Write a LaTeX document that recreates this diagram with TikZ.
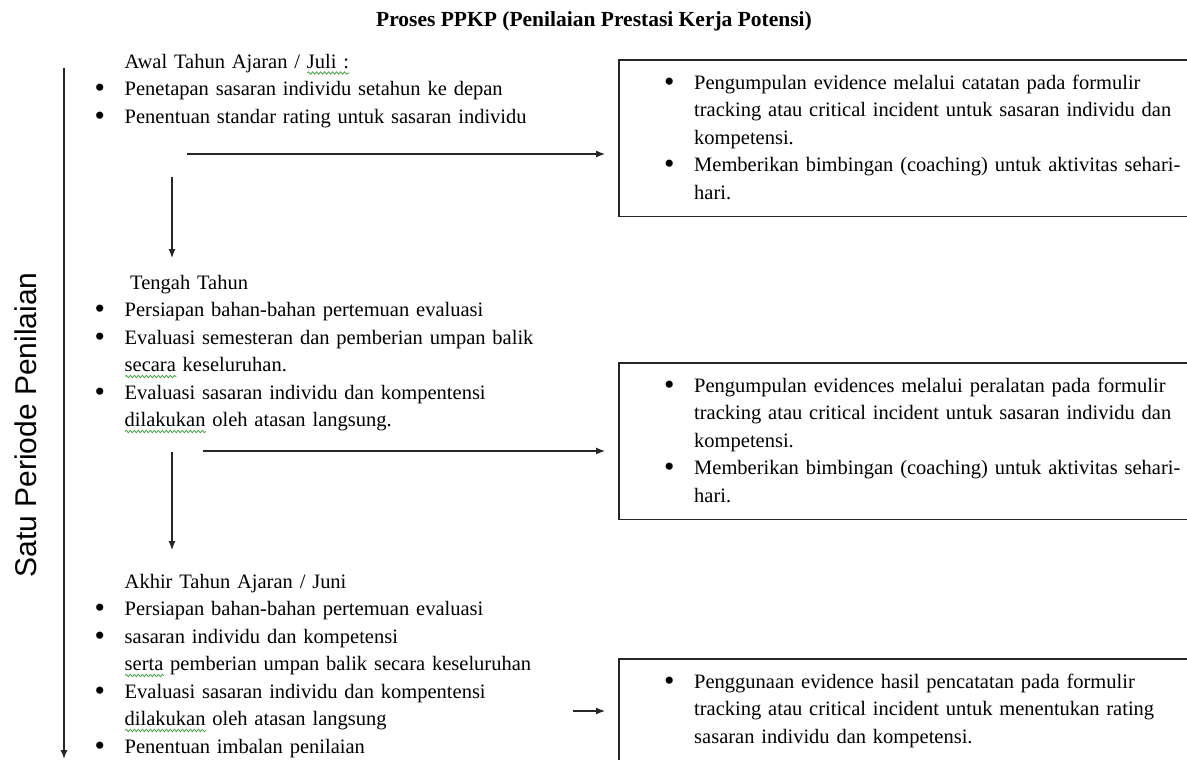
\documentclass[tikz,border=0pt]{standalone}
\usepackage{fontspec}
\setmainfont{Liberation Serif}
\newfontfamily\arialfont{Liberation Sans}
\usepackage{xcolor}
\usetikzlibrary{arrows.meta,decorations.pathmorphing}

\setlength{\parindent}{0pt}
\definecolor{ejaan}{RGB}{70,160,70}
\newsavebox{\katabox}
\newcommand{\salah}[1]{\sbox{\katabox}{#1}\rlap{\tikz[baseline=0pt]\draw[ejaan, line width=0.8pt, decorate,
    decoration={snake, amplitude=1.2pt, segment length=4pt}] (0pt,-5pt) -- (\wd\katabox,-5pt);}\usebox{\katabox}}
\newcommand{\butir}{\makebox[28.5pt][l]{\hspace*{-1.5pt}\raisebox{-2.4pt}{\scalebox{1.45}{\textbullet}}}}
\newcommand{\lanjut}{\hspace*{28.5pt}}

\tikzset{
  teks/.style={inner sep=0pt, anchor=north west, text width=500pt, align=left,
    font=\fontsize{20.5}{27.5}\selectfont},
  kotak/.style={anchor=north west, inner xsep=46.5pt,
    inner ysep=14.4pt, text width=640pt, align=left, font=\fontsize{20.5}{27.5}\selectfont},
  bingkai/.style={draw=black!85, line width=1.6pt},
  panah/.style={->, line width=1.2pt, draw=black!85},
}

\begin{document}
\begin{tikzpicture}[x=1pt, y=-1pt, >={Latex[length=9pt,width=7pt]}]
    \path[use as bounding box] (0,0) rectangle (1187,760);
    \clip (0,0) rectangle (1187,760);

    \node[font=\bfseries\fontsize{21.5}{25}\selectfont] (judul) at (594,21) {Proses PPKP (Penilaian Prestasi Kerja Potensi)};
    \node[rotate=90, font=\arialfont\fontsize{30}{36}\selectfont] (periode) at (26,425) {Satu Periode Penilaian};

    % garis waktu
    \coordinate (waktuA) at (64,68);
    \coordinate (waktuB) at (64,759);
    \draw[panah, line width=1.4pt] (waktuA) -- (waktuB);

    % awal tahun
    \node[teks] (awal) at (96,53.6) {\lanjut Awal Tahun Ajaran / \salah{Juli :}\\
        \butir Penetapan sasaran individu setahun ke depan\\
        \butir Penentuan standar rating untuk sasaran individu};
    \node[kotak] (box1) at (619,60) {\butir Pengumpulan evidence melalui catatan pada formulir\\
        \lanjut tracking atau critical incident untuk sasaran individu dan\\
        \lanjut kompetensi.\\
        \butir Memberikan bimbingan (coaching) untuk aktivitas sehari-\\
        \lanjut hari.\rule[-3pt]{0pt}{3pt}};

    % tengah tahun
    \node[teks] (tengah) at (96,274.6) {\hspace*{34pt}Tengah Tahun\\
        \butir Persiapan bahan-bahan pertemuan evaluasi\\
        \butir Evaluasi semesteran dan pemberian umpan balik\\
        \lanjut \salah{secara} keseluruhan.\\
        \butir Evaluasi sasaran individu dan kompentensi\\
        \lanjut \salah{dilakukan} oleh atasan langsung.};
    \node[kotak] (box2) at (619,363) {\butir Pengumpulan evidences melalui peralatan pada formulir\\
        \lanjut tracking atau critical incident untuk sasaran individu dan\\
        \lanjut kompetensi.\\
        \butir Memberikan bimbingan (coaching) untuk aktivitas sehari-\\
        \lanjut hari.\rule[-3pt]{0pt}{3pt}};

    % akhir tahun
    \node[teks] (akhir) at (96,573.6) {\lanjut Akhir Tahun Ajaran / Juni\\
        \butir Persiapan bahan-bahan pertemuan evaluasi\\
        \butir sasaran individu dan kompetensi\\
        \lanjut \salah{serta} pemberian umpan balik secara keseluruhan\\
        \butir Evaluasi sasaran individu dan kompentensi\\
        \lanjut \salah{dilakukan} oleh atasan langsung\\
        \butir Penentuan imbalan penilaian};
    \node[kotak] (box3) at (619,659) {\butir Penggunaan evidence hasil pencatatan pada formulir\\
        \lanjut tracking atau critical incident untuk menentukan rating\\
        \lanjut sasaran individu dan kompetensi.\strut};

    % bingkai kotak (sisi kanan di luar gambar)
    \draw[bingkai] (box1.north east) -- (box1.north west) -- (box1.south west) -- (box1.south east);
    \draw[bingkai] (box2.north east) -- (box2.north west) -- (box2.south west) -- (box2.south east);
    \draw[bingkai] (box3.north east) -- (box3.north west) -- (box3.south west);

    % panah
    \coordinate (a1) at (187,154);
    \coordinate (a2) at (203,451);
    \coordinate (a3) at (573,711);
    \draw[panah, shorten >=14pt] (a1) -- (a1 -| box1.west);
    \draw[panah, shorten >=14pt] (a2) -- (a2 -| box2.west);
    \draw[panah, shorten >=14pt] (a3) -- (a3 -| box3.west);

    \coordinate (t1) at (172,177);
    \coordinate (t1b) at (172,258);
    \coordinate (t2) at (172,452);
    \coordinate (t2b) at (172,550);
    \draw[panah] (t1) -- (t1b);
    \draw[panah] (t2) -- (t2b);
\end{tikzpicture}
\end{document}
